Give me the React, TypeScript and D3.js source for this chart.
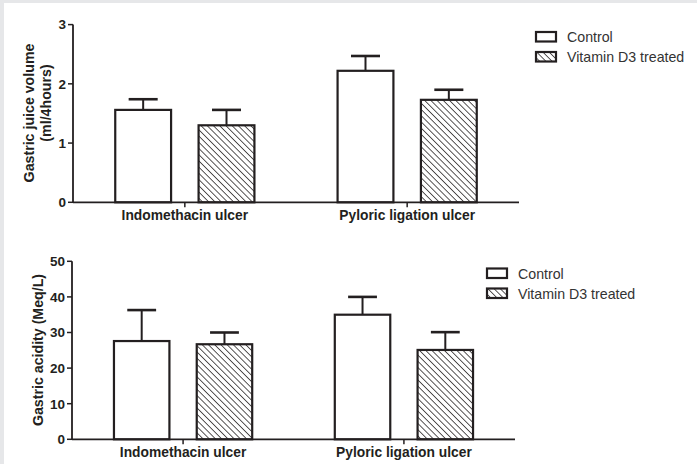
import React from 'react';
import * as d3 from 'd3';

const groups = ['Indomethacin ulcer', 'Pyloric ligation ulcer'];
const seriesNames = ['Control', 'Vitamin D3 treated'];

// gastric juice volume (ml/4hours)
const volumeControl = [1.56, 2.22];
const volumeControlSem = [0.18, 0.25];
const volumeVitD = [1.30, 1.73];
const volumeVitDSem = [0.26, 0.17];
const volumeTicks = [0, 1, 2, 3];

// gastric acidity (Meq/L)
const acidityControl = [27.6, 35.0];
const acidityControlSem = [8.7, 5.0];
const acidityVitD = [26.7, 25.1];
const acidityVitDSem = [3.3, 5.0];
const acidityTicks = [0, 10, 20, 30, 40, 50];

const ink = '#231f20';
const font = '"Liberation Sans", Arial, sans-serif';

type PanelProps = {
  left: number;
  right: number;
  top: number;
  bottom: number;
  ticks: number[];
  control: number[];
  controlSem: number[];
  vitD: number[];
  vitDSem: number[];
  titleLines: { text: string; x: number; y: number }[];
  legendX: number;
  legendY: number;
};

const Panel = (p: PanelProps) => {
  const y = d3.scaleLinear()
    .domain([0, d3.max(p.ticks) as number])
    .range([p.bottom, p.top]);

  const x0 = d3.scaleBand()
    .domain(groups)
    .range([p.left, p.right])
    .paddingInner(0.374)
    .paddingOuter(0.19);

  const x1 = d3.scaleBand()
    .domain(seriesNames)
    .range([0, x0.bandwidth()])
    .paddingInner(0.33)
    .paddingOuter(0);

  const rows = groups.map((g, i) => [
    { g, s: seriesNames[0], v: p.control[i], e: p.controlSem[i] },
    { g, s: seriesNames[1], v: p.vitD[i], e: p.vitDSem[i] },
  ]).flat();

  const bw = x1.bandwidth();
  const capW = bw * 0.52;

  return (
    <g>
      {/* error bars first so bars sit on top */}
      {rows.map((d, i) => {
        const cx = (x0(d.g) as number) + (x1(d.s) as number) + bw / 2;
        return (
          <g key={'e' + i} stroke={ink}>
            <line x1={cx} x2={cx} y1={y(d.v)} y2={y(d.v + d.e)} strokeWidth={2} />
            <line x1={cx - capW / 2} x2={cx + capW / 2} y1={y(d.v + d.e)} y2={y(d.v + d.e)} strokeWidth={2.6} />
          </g>
        );
      })}
      {rows.map((d, i) => {
        const bx = (x0(d.g) as number) + (x1(d.s) as number);
        return (
          <rect
            key={'b' + i}
            x={bx}
            y={y(d.v)}
            width={bw}
            height={y(0) - y(d.v)}
            fill={d.s === seriesNames[0] ? '#fff' : 'url(#hatch)'}
            stroke={ink}
            strokeWidth={2.2}
          />
        );
      })}

      {/* axes */}
      <line x1={p.left} x2={p.left} y1={y(0)} y2={y(d3.max(p.ticks) as number)} stroke={ink} strokeWidth={1.8} />
      <line x1={p.left} x2={p.right} y1={y(0)} y2={y(0)} stroke={ink} strokeWidth={1.8} />
      {p.ticks.map(t => (
        <g key={t}>
          <line x1={p.left - 5} x2={p.left} y1={y(t)} y2={y(t)} stroke={ink} strokeWidth={1.5} />
          <text x={p.left - 7} y={y(t)} dy="0.36em" textAnchor="end" fontFamily={font}
            fontWeight="bold" fontSize={13.5} fill={ink}>{t}</text>
        </g>
      ))}
      {groups.map(g => {
        const cx = (x0(g) as number) + x0.bandwidth() / 2;
        return (
          <g key={g}>
            <line x1={cx} x2={cx} y1={y(0)} y2={y(0) + 5} stroke={ink} strokeWidth={1.5} />
            <text x={cx} y={y(0) + 18} textAnchor="middle" fontFamily={font}
              fontWeight="bold" fontSize={13.8} fill={ink}>{g}</text>
          </g>
        );
      })}

      {p.titleLines.map(l => (
        <text key={l.text} transform={`translate(${l.x},${l.y}) rotate(-90)`} textAnchor="middle"
          fontFamily={font} fontWeight="bold" fontSize={14.2} fill={ink}>{l.text}</text>
      ))}

      {/* legend */}
      {seriesNames.map((s, i) => (
        <g key={s} transform={`translate(${p.legendX},${p.legendY + i * 20})`}>
          <rect x={0} y={0} width={20} height={9.5}
            fill={i === 0 ? '#fff' : 'url(#hatch)'} stroke={ink} strokeWidth={2.2} />
          <text x={31} y={10} fontFamily={font} fontSize={14.2} fill="#333">{s}</text>
        </g>
      ))}
    </g>
  );
};

export default function App() {
  const width = 697;
  const height = 464;
  return (
    <>
      <style>{'body{margin:0}'}</style>
      <svg width={width} height={height} style={{ display: 'block' }}>
        <defs>
          <pattern id="hatch" patternUnits="userSpaceOnUse" width={4.4} height={4.4}
            patternTransform="rotate(-45)">
            <rect width={4.4} height={4.4} fill="#fff" />
            <line x1={0} y1={0} x2={0} y2={4.4} stroke={ink} strokeWidth={1.5} />
          </pattern>
        </defs>
        <rect width={width} height={height} fill="#e6e7e9" />
        <rect x={4} y={3} width={width - 4} height={height - 3} fill="#fff" />

        <Panel
          left={73} right={519} top={24.6} bottom={202.3}
          ticks={volumeTicks}
          control={volumeControl} controlSem={volumeControlSem}
          vitD={volumeVitD} vitDSem={volumeVitDSem}
          titleLines={[
            { text: 'Gastric juice volume', x: 34, y: 113 },
            { text: '(ml/4hours)', x: 51, y: 103 },
          ]}
          legendX={536} legendY={32}
        />
        <Panel
          left={72} right={515} top={261.3} bottom={439.3}
          ticks={acidityTicks}
          control={acidityControl} controlSem={acidityControlSem}
          vitD={acidityVitD} vitDSem={acidityVitDSem}
          titleLines={[
            { text: 'Gastric acidity (Meq/L)', x: 43, y: 350 },
          ]}
          legendX={487} legendY={268.5}
        />
      </svg>
    </>
  );
}
